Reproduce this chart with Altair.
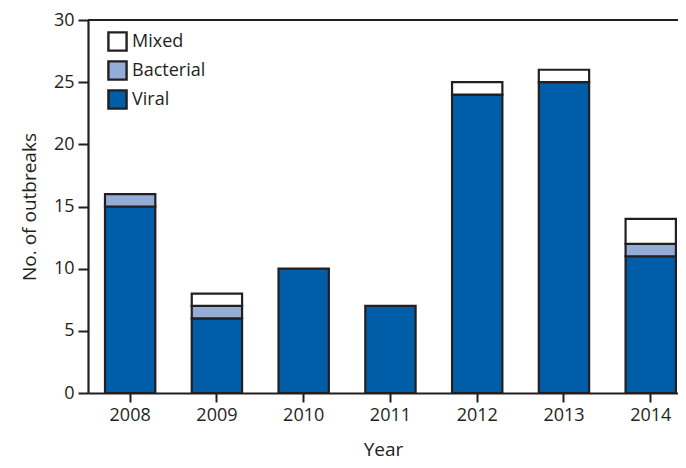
import altair as alt
import pandas as pd

years = ["2008", "2009", "2010", "2011", "2012", "2013", "2014"]
viral = [15, 6, 10, 7, 24, 25, 11]
bacterial = [1, 1, 0, 0, 0, 0, 1]
mixed = [0, 1, 0, 0, 1, 1, 2]

types = ["Mixed", "Bacterial", "Viral"]
colors = ["#ffffff", "#94acd8", "#005da8"]
stack_rank = {"Viral": 0, "Bacterial": 1, "Mixed": 2}

rows = []
for i, y in enumerate(years):
    for t, vals in (("Viral", viral), ("Bacterial", bacterial), ("Mixed", mixed)):
        if vals[i] > 0:
            rows.append({"Year": y, "Type": t, "Count": vals[i], "rank": stack_rank[t]})
df = pd.DataFrame(rows)

FONT = "Open Sans"
INK = "#231f20"

bars = alt.Chart(df).mark_bar(stroke=INK, strokeWidth=2.2).encode(
    x=alt.X("Year:N", sort=years,
            scale=alt.Scale(paddingInner=0.42, paddingOuter=0.11, align=0.89),
            axis=alt.Axis(title="Year", labelAngle=0, tickSize=9, tickWidth=2,
                          tickColor=INK, domainColor=INK, domainWidth=2.2,
                          labelFontSize=18, titleFontSize=19, labelColor=INK,
                          titleColor=INK, labelPadding=4, titlePadding=16,
                          titleFontWeight="normal", labelFont=FONT, titleFont=FONT)),
    y=alt.Y("Count:Q", stack="zero",
            scale=alt.Scale(domain=[0, 30], nice=False),
            axis=alt.Axis(title="No. of outbreaks", values=[0, 5, 10, 15, 20, 25, 30],
                          grid=False, tickSize=10, tickWidth=2, tickColor=INK,
                          domainColor=INK, domainWidth=2.2, labelFontSize=18,
                          titleFontSize=19, labelColor=INK, titleColor=INK,
                          labelPadding=4, titlePadding=14, titleFontWeight="normal",
                          labelFont=FONT, titleFont=FONT)),
    color=alt.Color("Type:N", scale=alt.Scale(domain=types, range=colors),
                    legend=alt.Legend(title=None, orient="none", legendX=19, legendY=11,
                                      symbolType="square", symbolSize=330,
                                      symbolStrokeColor=INK, symbolStrokeWidth=2.4,
                                      symbolOpacity=1, labelFontSize=18, labelFont=FONT,
                                      labelColor=INK, rowPadding=0, labelOffset=4)),
    order=alt.Order("rank:Q", sort="ascending"),
)

top = alt.Chart(pd.DataFrame({"v": [0]})).mark_rule(color=INK, strokeWidth=2.2).encode(
    y=alt.value(0)
)

chart = alt.layer(bars, top).properties(
    width=590, height=373,
    autosize=alt.AutoSizeParams(type="none"),
    padding={"left": 80, "top": 12, "right": 0, "bottom": 68},
).configure_view(stroke=None).configure_axis(labelFont=FONT, titleFont=FONT)

chart.save("out.html", embed_options={"renderer": "svg", "actions": False})
